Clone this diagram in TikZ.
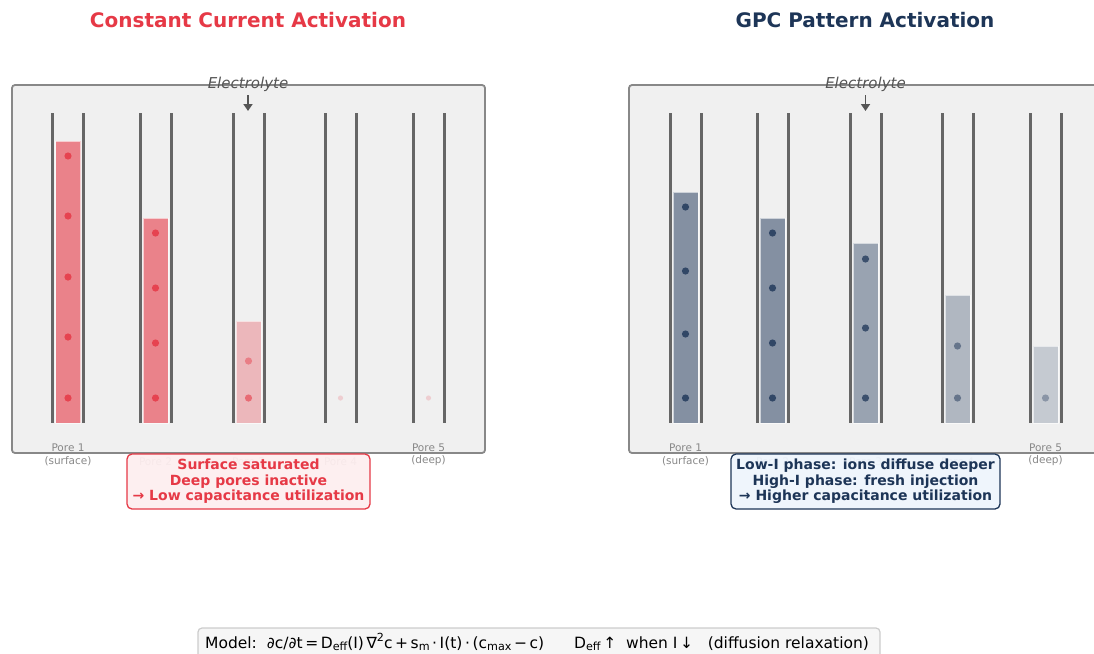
\documentclass[tikz,border=0pt]{standalone}
\usepackage{fontspec}
\setmainfont{DejaVu Sans}
\usetikzlibrary{arrows.meta}
\definecolor{cred}{HTML}{E63946}
\definecolor{cnavy}{HTML}{1D3557}
\definecolor{panelbg}{HTML}{F0F0F0}
\definecolor{panelbd}{HTML}{888888}
\definecolor{wallc}{HTML}{666666}
\definecolor{lblc}{HTML}{888888}
\definecolor{elc}{HTML}{555555}
\definecolor{noteredbg}{HTML}{FDEEEF}
\definecolor{notebluebg}{HTML}{EEF4FC}
\definecolor{formbg}{HTML}{F6F6F6}
\definecolor{formbd}{HTML}{CCCCCC}
\newcommand\lowsub[1]{\raisebox{-0.35ex}{\scalebox{0.72}{#1}}}
\newcommand\upsup[1]{\raisebox{0.75ex}{\scalebox{0.72}{#1}}}
\tikzset{
  panel/.style={draw=panelbd, line width=1.8pt, fill=panelbg, rounded corners=3pt},
  wall/.style={draw=wallc, line width=3pt},
  barfill/.style={draw=white, draw opacity=0.6, line width=0.8pt},
  ptitle/.style={font=\bfseries\fontsize{20}{24}\selectfont, inner sep=0pt},
  elab/.style={font=\itshape\fontsize{15}{18}\selectfont, text=elc, inner sep=0pt},
  earrow/.style={draw=elc, line width=1.8pt, -{Triangle[length=7pt,width=9pt]}},
  plab/.style={font=\fontsize{10.5}{12.5}\selectfont, text=lblc, align=center, inner sep=0pt},
  note/.style={rounded corners=5pt, line width=1.3pt, align=center, fill opacity=0.95, text opacity=1,
    font=\bfseries\fontsize{14}{15.5}\selectfont, inner xsep=5pt, inner ysep=4pt},
  formula/.style={font=\fontsize{15.5}{18}\selectfont, inner sep=0pt, anchor=base west},
}
\begin{document}
\begin{tikzpicture}[x=1pt,y=-1pt]
\useasboundingbox (0,0) rectangle (1094,653);

% titles
\node[ptitle, text=cred] (t1) at (248,20) {Constant Current Activation};
\node[ptitle, text=cnavy] (t2) at (865,20) {GPC Pattern Activation};

% panels
\draw[panel] (12,85) rectangle (485,453);
\draw[panel] (629,85) rectangle (1102,453);

% ---------- left panel ----------
\foreach \c/\t/\o in {68/141/0.6, 155.5/218/0.6, 248.5/321/0.31}
  \filldraw[barfill, fill=cred, fill opacity=\o] (\c-12.5,\t) rectangle (\c+12.5,423);
\foreach \c in {68,155.5,248.5,340.5,428.5}{
  \draw[wall] (\c-15.5,113) -- (\c-15.5,423);
  \draw[wall] (\c+15.5,113) -- (\c+15.5,423);
}
\foreach \y in {156,216,277,337,398} \fill[cred, opacity=0.85] (68,\y) circle (3.6);
\foreach \y in {233,288,343,398} \fill[cred, opacity=0.85] (155.5,\y) circle (3.6);
\fill[cred, opacity=0.45] (248.5,361) circle (3.6);
\fill[cred, opacity=0.6] (248.5,398) circle (3.6);
\fill[cred, opacity=0.18] (340.5,398) circle (2.6);
\fill[cred, opacity=0.18] (428.5,398) circle (2.6);

\node[elab] (e1) at (248,84) {Electrolyte};
\coordinate (e1end) at (248,111);
\draw[earrow] (248,95) -- (e1end);

\node[plab] (l1p1) at (68,455) {Pore 1\\(surface)};
\node[plab] (l1p2) at (155.5,462) {Pore 2};
\node[plab] (l1p3) at (248.5,462) {Pore 3};
\node[plab] (l1p4) at (340.5,462) {Pore 4};
\node[plab] (l1p5) at (428.5,455) {Pore 5\\(deep)};

\node[note, draw=cred, fill=noteredbg, text=cred, minimum width=243pt, minimum height=55pt] (n1) at (248.5,481.5)
  {Surface saturated\\Deep pores inactive\\→ Low capacitance utilization};

% ---------- right panel ----------
\foreach \c/\t/\o in {685.5/192/0.51, 772.5/218/0.51, 865.5/243/0.41, 957.5/295/0.3, 1045.5/346/0.2}
  \filldraw[barfill, fill=cnavy, fill opacity=\o] (\c-12.5,\t) rectangle (\c+12.5,423);
\foreach \c in {685.5,772.5,865.5,957.5,1045.5}{
  \draw[wall] (\c-15.5,113) -- (\c-15.5,423);
  \draw[wall] (\c+15.5,113) -- (\c+15.5,423);
}
\foreach \y in {207,271,334,398} \fill[cnavy, opacity=0.8] (685.5,\y) circle (3.6);
\foreach \y in {233,288,343,398} \fill[cnavy, opacity=0.8] (772.5,\y) circle (3.6);
\foreach \y in {259,328,398} \fill[cnavy, opacity=0.75] (865.5,\y) circle (3.6);
\foreach \y in {346,398} \fill[cnavy, opacity=0.5] (957.5,\y) circle (3.6);
\fill[cnavy, opacity=0.35] (1045.5,398) circle (3.6);

\node[elab] (e2) at (865.5,84) {Electrolyte};
\coordinate (e2end) at (865.5,111);
\draw[earrow] (865.5,95) -- (e2end);

\node[plab] (l2p1) at (685.5,455) {Pore 1\\(surface)};
\node[plab] (l2p2) at (772.5,462) {Pore 2};
\node[plab] (l2p3) at (865.5,462) {Pore 3};
\node[plab] (l2p4) at (957.5,462) {Pore 4};
\node[plab] (l2p5) at (1045.5,455) {Pore 5\\(deep)};

\node[note, draw=cnavy, fill=notebluebg, text=cnavy, minimum width=269pt, minimum height=55pt] (n2) at (865.5,481.5)
  {Low-I phase: ions diffuse deeper\\High-I phase: fresh injection\\→ Higher capacitance utilization};

% ---------- formula ----------
\draw[draw=formbd, fill=formbg, line width=1.2pt, rounded corners=4pt] (198,628) rectangle (880,668);
\node[formula] (fm) at (205,648)
  {Model:\ \ ∂c/∂t\,=\,D\lowsub{eff}(I)\,∇\upsup{2}c\,+\,s\lowsub{m}\,·\,I(t)\,·\,(c\lowsub{max}\,−\,c)\hspace{30pt}D\lowsub{eff}\,↑\ \ when I\,↓\ \ \ (diffusion relaxation)};
\end{tikzpicture}
\end{document}
